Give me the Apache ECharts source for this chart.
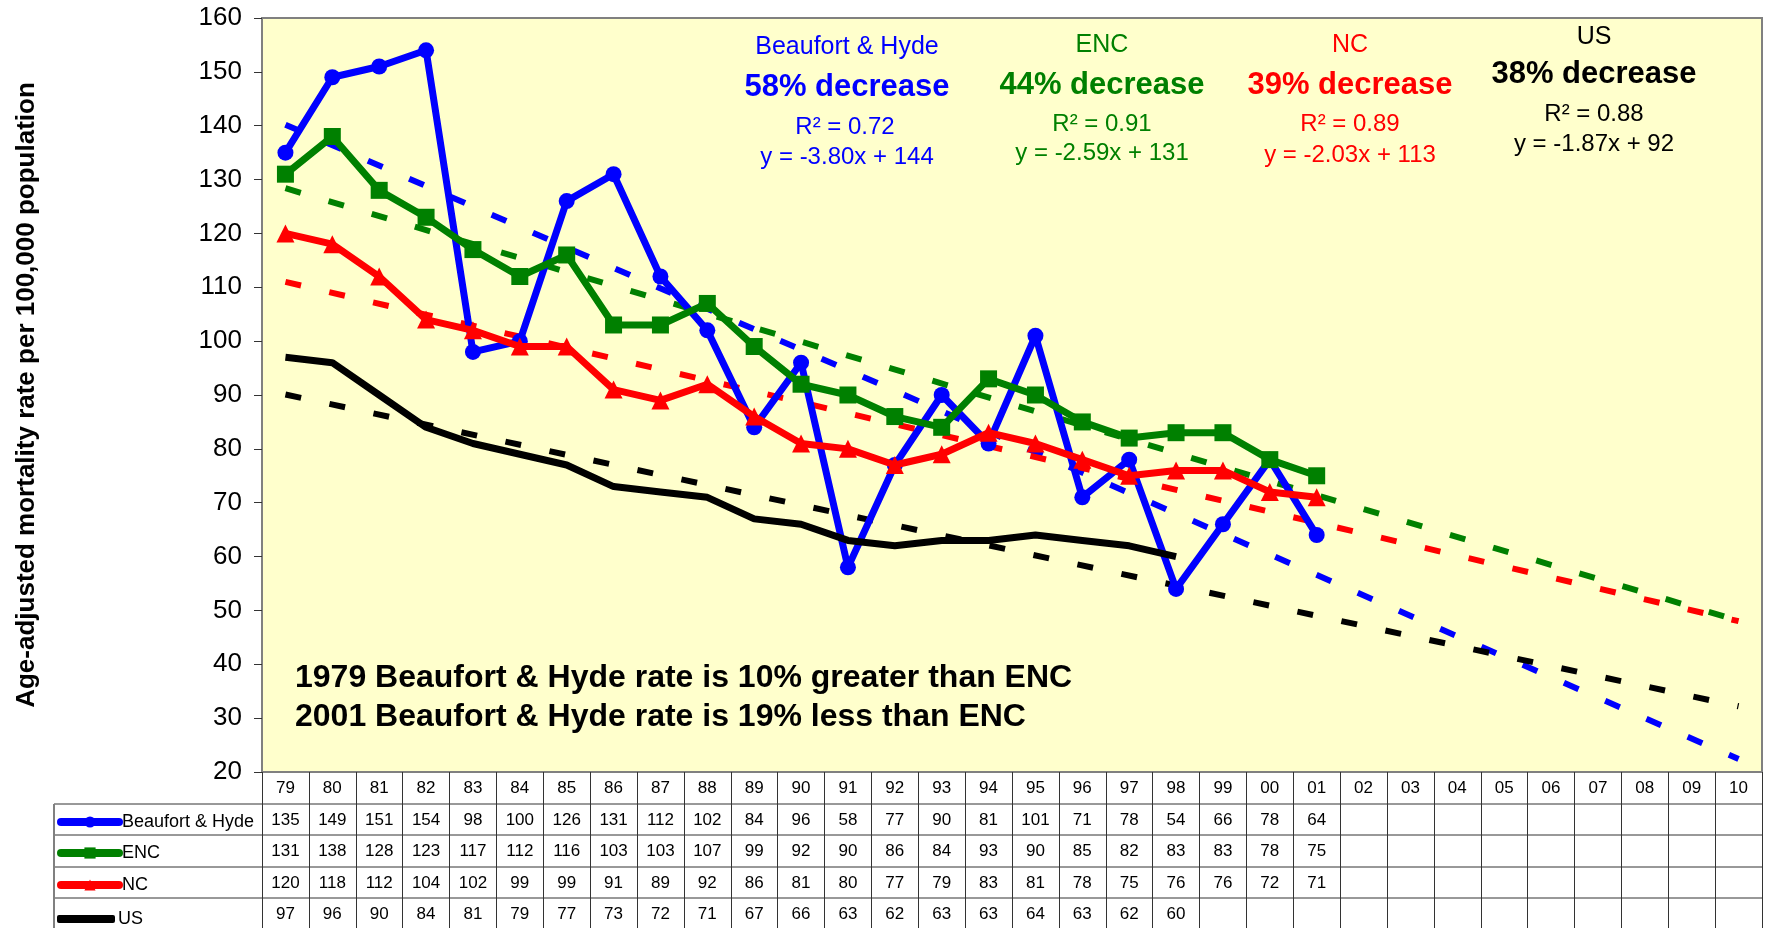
<!DOCTYPE html>
<html>
<head>
<meta charset="utf-8">
<script src="https://cdn.jsdelivr.net/npm/echarts@6/dist/echarts.min.js"></script>
<style>
  html, body { margin: 0; padding: 0; background: #fff; }
  #chart { width: 1769px; height: 928px; }
</style>
</head>
<body>
<div id="chart"></div>
<script>
// years shown along the bottom (1979 - 2010)
const years = ['79', '80', '81', '82', '83', '84', '85', '86', '87', '88', '89', '90', '91', '92', '93', '94', '95', '96', '97', '98', '99', '00', '01', '02', '03', '04', '05', '06', '07', '08', '09', '10']

// age-adjusted mortality rates
const beaufortHyde = [135, 149, 151, 154, 98, 100, 126, 131, 112, 102, 84, 96, 58, 77, 90, 81, 101, 71, 78, 54, 66, 78, 64]
const enc = [131, 138, 128, 123, 117, 112, 116, 103, 103, 107, 99, 92, 90, 86, 84, 93, 90, 85, 82, 83, 83, 78, 75]
const nc = [120, 118, 112, 104, 102, 99, 99, 91, 89, 92, 86, 81, 80, 77, 79, 83, 81, 78, 75, 76, 76, 72, 71]
const us = [97, 96, 90, 84, 81, 79, 77, 73, 72, 71, 67, 66, 63, 62, 63, 63, 64, 63, 62, 60]

// trend line ends (at 79 and at 10)
const trendBH = [140.2, 22.4]
const trendENC = [128.4, 48.1]
const trendNC = [111.0, 48.0]
const trendUS = [90.1, 32.2]

const seriesNames = ['Beaufort & Hyde', 'ENC', 'NC', 'US']
const colors = ['#0000FF', '#008000', '#FF0000', '#000000']

const FONT = 'Liberation Sans, Arial, sans-serif'

const chart = echarts.init(document.getElementById('chart'))

// only the two ends are known, the library joins them
function trendData (ends) {
  const d = years.map(() => null)
  d[0] = ends[0]
  d[years.length - 1] = ends[1]
  return d
}

function trendSeries (ends, color) {
  return {
    type: 'line',
    data: trendData(ends),
    connectNulls: true,
    symbol: 'none',
    silent: true,
    z: 1,
    lineStyle: { color: color, width: 6, type: [16, 29], cap: 'butt' }
  }
}

// table rows below the plot (as extra category axes)
const tableRows = [beaufortHyde, enc, nc, us]
const rowOffsets = [32, 63, 95, 126]
const rowCenters = [820, 851, 883, 914]

const tableAxes = tableRows.map((row, i) => ({
  type: 'category',
  data: years,
  position: 'bottom',
  offset: rowOffsets[i],
  axisLine: { show: false },
  axisTick: { show: false },
  axisLabel: {
    interval: 0,
    margin: 8,
    fontSize: 17,
    fontFamily: FONT,
    color: '#000',
    formatter: (v, idx) => (row[idx] !== undefined ? String(row[idx]) : '')
  }
}))

// one legend per table row
const legends = seriesNames.map((name, i) => {
  const lg = {
    data: [name],
    left: 57,
    top: rowCenters[i] - 7,
    padding: 0,
    itemWidth: 58,
    itemHeight: 14,
    itemGap: 3,
    selectedMode: false,
    lineStyle: { width: 8, cap: 'round' },
    textStyle: { fontSize: 18, fontFamily: FONT, color: '#000', padding: [3, 0, 0, -2] }
  }
  if (name === 'US') {
    // plain thick line, no marker
    lg.data = [{ name: name, icon: 'roundRect' }]
    lg.itemHeight = 8
    lg.top = rowCenters[i] - 4
    lg.textStyle = { fontSize: 18, fontFamily: FONT, color: '#000', padding: [6, 0, 0, -2] }
  }
  return lg
})

function note (x, y, text, color, size, bold) {
  return {
    type: 'text',
    x: x,
    y: y,
    style: {
      text: text,
      fill: color,
      font: (bold ? 'bold ' : '') + size + 'px ' + FONT,
      align: 'center',
      verticalAlign: 'middle'
    }
  }
}

function hline (y) {
  return { type: 'line', shape: { x1: 54, y1: y, x2: 1762, y2: y }, style: { stroke: '#333', lineWidth: 1 } }
}

const option = {
  animation: false,
  color: colors,
  grid: {
    left: 262,
    right: 7,
    top: 18,
    bottom: 156,
    show: true,
    backgroundColor: '#FFFFCC',
    borderColor: '#808080',
    borderWidth: 2
  },
  legend: legends,
  xAxis: [
    {
      type: 'category',
      data: years,
      boundaryGap: true,
      axisLine: { lineStyle: { color: '#808080', width: 2 } },
      axisTick: { show: true, interval: 0, length: 157, lineStyle: { color: '#333', width: 1 } },
      axisLabel: { interval: 0, margin: 8, fontSize: 17, fontFamily: FONT, color: '#000' }
    }
  ].concat(tableAxes),
  yAxis: {
    type: 'value',
    min: 20,
    max: 160,
    interval: 10,
    name: 'Age-adjusted mortality rate per 100,000 population',
    nameLocation: 'middle',
    nameGap: 222,
    nameTextStyle: { fontSize: 26, fontWeight: 'bold', fontFamily: FONT, color: '#000' },
    axisLine: { show: true, lineStyle: { color: '#808080', width: 2 } },
    axisTick: { show: true, length: 8, lineStyle: { color: '#333' } },
    axisLabel: { fontSize: 26, fontFamily: FONT, color: '#000', margin: 20 },
    splitLine: { show: false }
  },
  series: [
    trendSeries(trendBH, colors[0]),
    trendSeries(trendENC, colors[1]),
    trendSeries(trendNC, colors[2]),
    trendSeries(trendUS, colors[3]),
    {
      name: 'Beaufort & Hyde',
      type: 'line',
      data: beaufortHyde,
      symbol: 'circle',
      symbolSize: 16,
      z: 3,
      lineStyle: { width: 7, color: colors[0] },
      itemStyle: { color: colors[0] }
    },
    {
      name: 'ENC',
      type: 'line',
      data: enc,
      symbol: 'rect',
      symbolSize: 17,
      z: 4,
      lineStyle: { width: 7, color: colors[1] },
      itemStyle: { color: colors[1] }
    },
    {
      name: 'NC',
      type: 'line',
      data: nc,
      symbol: 'triangle',
      symbolSize: 18,
      z: 5,
      lineStyle: { width: 7, color: colors[2] },
      itemStyle: { color: colors[2] }
    },
    {
      name: 'US',
      type: 'line',
      data: us,
      symbol: 'none',
      z: 6,
      lineStyle: { width: 7, color: colors[3] },
      itemStyle: { color: colors[3] }
    }
  ],
  graphic: [
    note(847, 47, 'Beaufort & Hyde', colors[0], 25, false),
    note(847, 87, '58% decrease', colors[0], 31, true),
    note(845, 127, 'R² = 0.72', colors[0], 24, false),
    note(847, 157, 'y = -3.80x + 144', colors[0], 24, false),

    note(1102, 45, 'ENC', colors[1], 25, false),
    note(1102, 85, '44% decrease', colors[1], 31, true),
    note(1102, 124, 'R² = 0.91', colors[1], 24, false),
    note(1102, 153, 'y = -2.59x + 131', colors[1], 24, false),

    note(1350, 45, 'NC', colors[2], 25, false),
    note(1350, 85, '39% decrease', colors[2], 31, true),
    note(1350, 124, 'R² = 0.89', colors[2], 24, false),
    note(1350, 155, 'y = -2.03x + 113', colors[2], 24, false),

    note(1594, 37, 'US', '#000', 25, false),
    note(1594, 74, '38% decrease', '#000', 31, true),
    note(1594, 114, 'R² = 0.88', '#000', 24, false),
    note(1594, 144, 'y = -1.87x + 92', '#000', 24, false),

    {
      type: 'text',
      x: 295,
      y: 678,
      style: { text: '1979 Beaufort & Hyde rate is 10% greater than ENC', fill: '#000', font: 'bold 32px ' + FONT, verticalAlign: 'middle' }
    },
    {
      type: 'text',
      x: 295,
      y: 717,
      style: { text: '2001 Beaufort & Hyde rate is 19% less than ENC', fill: '#000', font: 'bold 32px ' + FONT, verticalAlign: 'middle' }
    },

    // table frame for the legend column
    hline(804),
    hline(835),
    hline(867),
    hline(898),
    { type: 'line', shape: { x1: 54, y1: 804, x2: 54, y2: 928 }, style: { stroke: '#808080', lineWidth: 2 } }
  ]
}

chart.setOption(option)
window.addEventListener('resize', () => chart.resize())
</script>
</body>
</html>
